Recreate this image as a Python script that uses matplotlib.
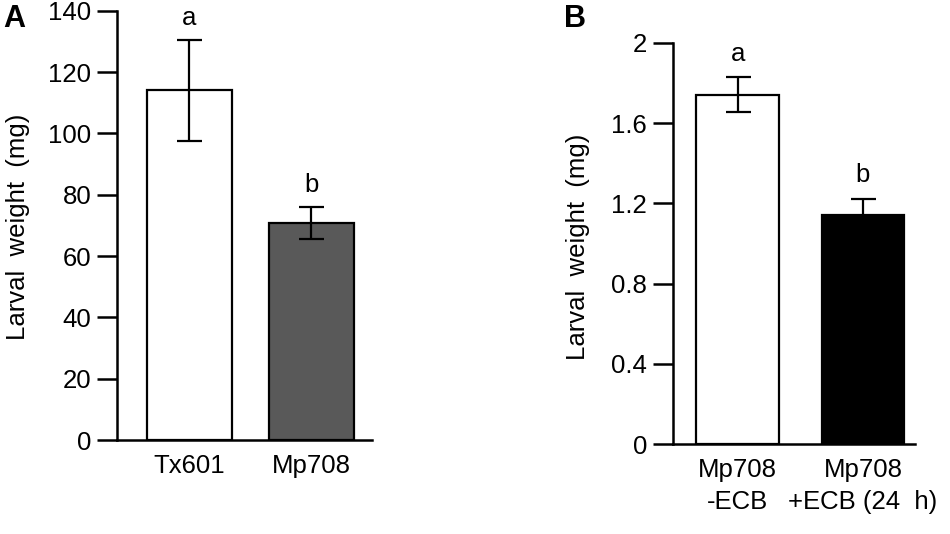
import matplotlib
matplotlib.use("Agg")
import matplotlib.pyplot as plt

plt.rcParams['font.family'] = ['Liberation Sans', 'DejaVu Sans']

# Panel A data
a_categories = ["Tx601", "Mp708"]
a_values = [114.0, 70.7]
a_errors = [16.5, 5.2]
a_letters = ["a", "b"]
a_colors = ["white", "#595959"]
a_yticks = [0, 20, 40, 60, 80, 100, 120, 140]

# Panel B data
b_categories = ["Mp708\n-ECB", "Mp708\n+ECB (24  h)"]
b_values = [1.74, 1.142]
b_errors = [0.087, 0.08]
b_letters = ["a", "b"]
b_colors = ["white", "black"]
b_yticks = [0, 0.4, 0.8, 1.2, 1.6, 2]
b_yticklabels = ["0", "0.4", "0.8", "1.2", "1.6", "2"]

FS = 18.5
LW = 1.8

fig = plt.figure(figsize=(9.5, 5.34), dpi=100)


def style(ax, xlim, ylim, yticks, yticklabels=None):
    ax.set_xlim(*xlim)
    ax.set_ylim(*ylim)
    ax.spines['top'].set_visible(False)
    ax.spines['right'].set_visible(False)
    ax.spines['left'].set_linewidth(LW)
    ax.spines['bottom'].set_linewidth(LW)
    ax.set_yticks(yticks)
    if yticklabels is not None:
        ax.set_yticklabels(yticklabels)
    ax.tick_params(axis='y', direction='out', length=14.5, width=LW, labelsize=FS, pad=4)
    ax.tick_params(axis='x', length=0, labelsize=FS, pad=10)


# Panel A
axA = fig.add_axes([117/950, (534-440)/534, (372-117)/950, (440-10.7)/534])
xa = list(range(len(a_values)))
axA.bar(xa, a_values, width=0.69, color=a_colors, edgecolor='black', linewidth=1.6, zorder=2)
axA.errorbar(xa, a_values, yerr=a_errors, fmt='none', ecolor='black', elinewidth=1.6,
             capsize=9, capthick=1.6, zorder=3)
for x, v, e, t in zip(xa, a_values, a_errors, a_letters):
    axA.annotate(t, (x, v + e), xytext=(0, 16), textcoords='offset points',
                 ha='center', va='center', fontsize=FS)
style(axA, (-0.594, 1.496), (0, 140), a_yticks)
axA.set_xticks(xa)
axA.set_xticklabels(a_categories)
axA.set_ylabel("Larval  weight  (mg)", fontsize=FS, va='center')
axA.yaxis.set_label_coords(-0.388, 0.496)

# Panel B
axB = fig.add_axes([672.7/950, (534-444.3)/534, (915-672.7)/950, (444.3-42.7)/534])
xb = list(range(len(b_values)))
axB.bar(xb, b_values, width=0.66, color=b_colors, edgecolor='black', linewidth=1.6, zorder=2)
axB.errorbar(xb, b_values, yerr=b_errors, fmt='none', ecolor='black', elinewidth=1.6,
             capsize=9, capthick=1.6, zorder=3)
for x, v, e, t in zip(xb, b_values, b_errors, b_letters):
    axB.annotate(t, (x, v + e), xytext=(0, 17), textcoords='offset points',
                 ha='center', va='center', fontsize=FS)
style(axB, (-0.52, 1.416), (0, 2), b_yticks, b_yticklabels)
axB.set_xticks(xb)
axB.set_xticklabels(b_categories, linespacing=1.4)
axB.set_ylabel("Larval  weight  (mg)", fontsize=FS, va='center')
axB.yaxis.set_label_coords(-0.391, 0.491)

fig.text(3/950, 1 - 4/534, "A", fontsize=22, fontweight='bold', ha='left', va='top')
fig.text(564/950, 1 - 4/534, "B", fontsize=22, fontweight='bold', ha='left', va='top')

fig.savefig("out.png", dpi=100)
